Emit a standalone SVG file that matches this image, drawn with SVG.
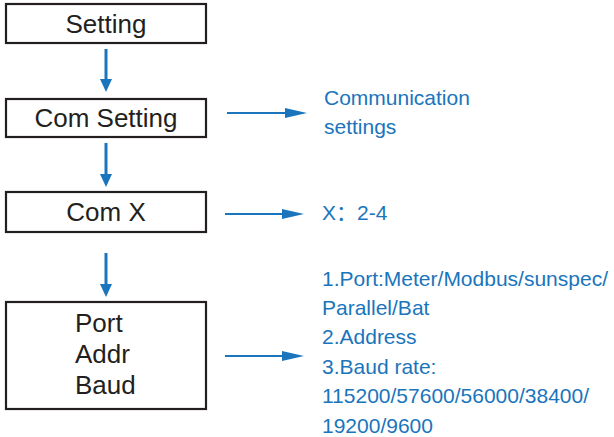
<svg xmlns="http://www.w3.org/2000/svg" width="614" height="437" viewBox="0 0 614 437">
<style>
.box{fill:#fff;stroke:#231f20;stroke-width:2.2}
.lbl{font-family:"Liberation Sans",Arial,sans-serif;font-size:26px;fill:#231f20}
.note{font-family:"Liberation Sans",Arial,"Noto Sans CJK SC",sans-serif;font-size:21px;fill:#1a75bc}
.shaft{stroke:#1a75bc;fill:none}
.head{fill:#1a75bc}
</style>
<rect width="614" height="437" fill="#fff"/>
<g id="setting"><rect class="box" x="6" y="4" width="200" height="39"/><text class="lbl" x="106" y="33" text-anchor="middle">Setting</text></g>
<g id="com-setting"><rect class="box" x="6" y="99" width="200" height="38"/><text class="lbl" x="106" y="127" text-anchor="middle">Com Setting</text></g>
<g id="com-x"><rect class="box" x="6" y="192" width="200" height="40"/><text class="lbl" x="106" y="221" text-anchor="middle">Com X</text></g>
<g id="port-addr-baud"><rect class="box" x="6" y="302" width="200" height="107"/><text class="lbl" x="75" y="332">Port</text><text class="lbl" x="75" y="363">Addr</text><text class="lbl" x="75" y="394">Baud</text></g>
<g id="note-comm"><text class="note" x="324" y="105">Communication</text><text class="note" x="324" y="134">settings</text></g>
<g id="note-x"><text class="note" x="322" y="220">X：2-4</text></g>
<g id="note-params"><text class="note" x="322" y="286">1.Port:Meter/Modbus/sunspec/</text><text class="note" x="322" y="315">Parallel/Bat</text><text class="note" x="322" y="344">2.Address</text><text class="note" x="322" y="374">3.Baud rate:</text><text class="note" x="322" y="403">115200/57600/56000/38400/</text><text class="note" x="322" y="433">19200/9600</text></g>
<g id="connectors">
<line class="shaft" x1="106" y1="49" x2="106" y2="81" stroke-width="3"/><polygon class="head" points="100,79 112,79 106,92"/>
<line class="shaft" x1="106" y1="143" x2="106" y2="176" stroke-width="3"/><polygon class="head" points="100,174 112,174 106,187"/>
<line class="shaft" x1="106" y1="253" x2="106" y2="286" stroke-width="3"/><polygon class="head" points="100,284 112,284 106,297"/>
<line class="shaft" x1="227" y1="113" x2="287" y2="113" stroke-width="2"/><polygon class="head" points="285,108 307,113 285,118"/>
<line class="shaft" x1="225" y1="214" x2="284" y2="214" stroke-width="2"/><polygon class="head" points="282,209 304,214 282,219"/>
<line class="shaft" x1="225" y1="356" x2="284" y2="356" stroke-width="2"/><polygon class="head" points="282,351 304,356 282,361"/>
</g>
</svg>
